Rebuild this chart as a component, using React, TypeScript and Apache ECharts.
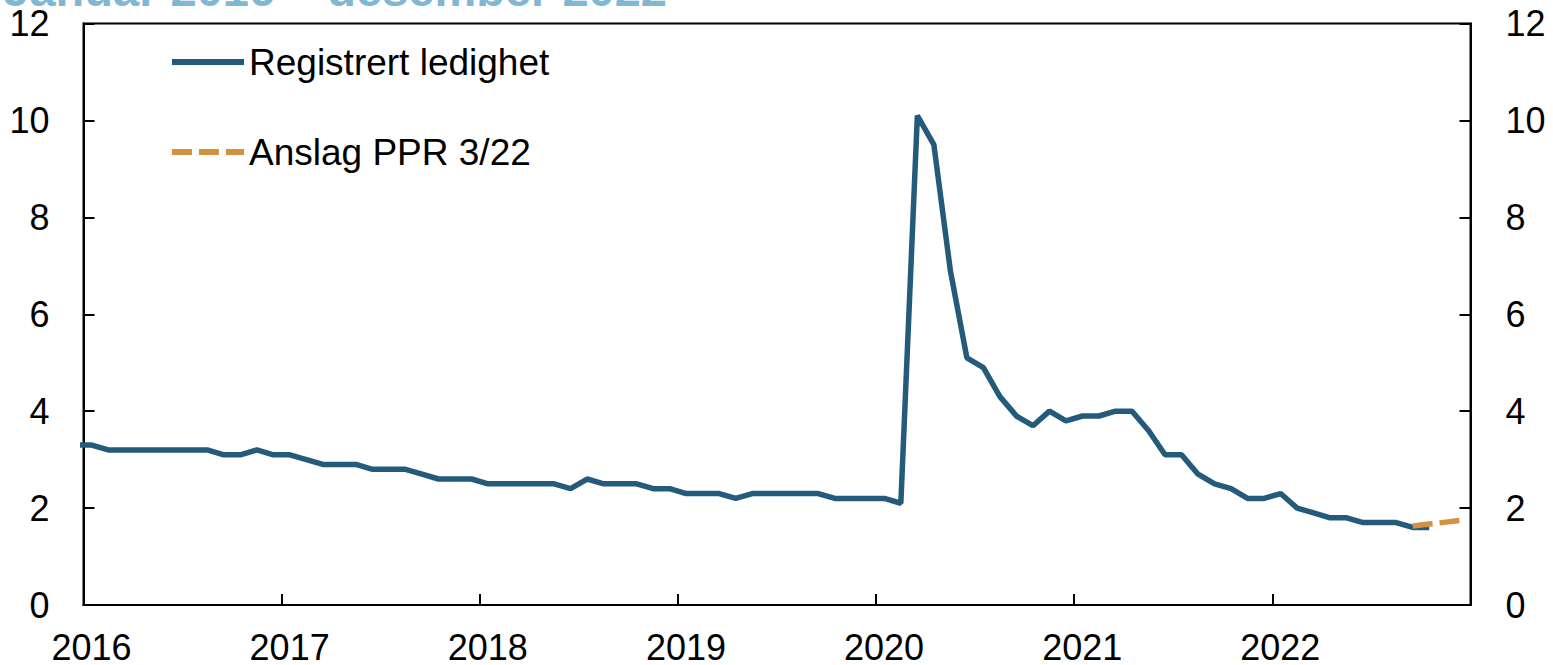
import React, { useEffect, useRef } from "react";
import * as echarts from "echarts";

// Monthly observations (seasonally adjusted registered unemployment, per cent)
const registeredStart = "2015-12";
const registeredValues = [
  3.3, // 2015-12
  3.3, 3.2, 3.2, 3.2, 3.2, 3.2, 3.2, 3.2, 3.1, 3.1, 3.2, 3.1, // 2016
  3.1, 3.0, 2.9, 2.9, 2.9, 2.8, 2.8, 2.8, 2.7, 2.6, 2.6, 2.6, // 2017
  2.5, 2.5, 2.5, 2.5, 2.5, 2.4, 2.6, 2.5, 2.5, 2.5, 2.4, 2.4, // 2018
  2.3, 2.3, 2.3, 2.2, 2.3, 2.3, 2.3, 2.3, 2.3, 2.2, 2.2, 2.2, // 2019
  2.2, 2.1, 10.1, 9.5, 6.9, 5.1, 4.9, 4.3, 3.9, 3.7, 4.0, 3.8, // 2020
  3.9, 3.9, 4.0, 4.0, 3.6, 3.1, 3.1, 2.7, 2.5, 2.4, 2.2, 2.2, // 2021
  2.3, 2.0, 1.9, 1.8, 1.8, 1.7, 1.7, 1.7, 1.6, 1.6, // 2022 (to October)
];

const forecastStart = "2022-09";
const forecastValues = [1.63, 1.67, 1.71, 1.75];

const yearTicks = ["2016", "2017", "2018", "2019", "2020", "2021", "2022"];
const yTickValues = [0, 2, 4, 6, 8, 10, 12];

const seriesNames = ["Registrert ledighet", "Anslag PPR 3/22"];
const titleText = "Januar 2016 – desember 2022";

function monthSeq(start: string, count: number): string[] {
  const [y0, m0] = start.split("-").map(Number);
  const out: string[] = [];
  for (let k = 0; k < count; k++) {
    const t = y0 * 12 + (m0 - 1) + k;
    const y = Math.floor(t / 12);
    const m = (t % 12) + 1;
    out.push(`${y}-${String(m).padStart(2, "0")}`);
  }
  return out;
}

// a month is placed in the middle of its own span on a decimal-year axis
function monthToYear(month: string): number {
  const [y, m] = month.split("-").map(Number);
  return y + (m - 0.5) / 12;
}

const registeredMonths = monthSeq(registeredStart, registeredValues.length);
const forecastMonths = monthSeq(forecastStart, forecastValues.length);

const FONT = '"Liberation Sans", Arial, sans-serif';
const BLUE = "#245b7b";
const ORANGE = "#d4913f";

export default function App() {
  const ref = useRef<HTMLDivElement>(null);

  useEffect(() => {
    document.body.style.margin = "0";
    if (!ref.current) return;
    const chart = echarts.init(ref.current, undefined, { renderer: "svg" });

    const firstYear = Number(yearTicks[0]);
    const lastYear = Number(yearTicks[yearTicks.length - 1]) + 1;

    const yAxisCommon = (position: "left" | "right", margin: number) => ({
      type: "value",
      position,
      min: yTickValues[0],
      max: yTickValues[yTickValues.length - 1],
      interval: yTickValues[1] - yTickValues[0],
      axisLine: { show: true, lineStyle: { color: "#000", width: 2 } },
      axisTick: { show: true, inside: true, length: 11, lineStyle: { color: "#000", width: 2 } },
      splitLine: { show: false },
      axisLabel: { fontSize: 36, color: "#000", fontFamily: FONT, margin },
    });

    chart.setOption({
      animation: false,
      grid: {
        left: 83.5,
        right: 82.5,
        top: 23.5,
        bottom: 59.5,
        show: true,
        borderColor: "#000",
        borderWidth: 2,
        backgroundColor: "transparent",
      },
      legend: {
        orient: "vertical",
        left: 172,
        top: 42,
        padding: 0,
        itemWidth: 72,
        itemHeight: 6,
        itemGap: 50,
        symbolKeepAspect: false,
        itemStyle: { borderWidth: 0 },
        data: [
          { name: seriesNames[0], icon: "rect" },
          {
            name: seriesNames[1],
            icon: "path://M0,0H20V6H0Z M27,0H47V6H27Z M54,0H72V6H54Z",
          },
        ],
        textStyle: { fontSize: 37, color: "#000", fontFamily: FONT, lineHeight: 40 },
      },
      xAxis: {
        type: "value",
        min: firstYear,
        max: lastYear,
        interval: 1,
        axisLine: { show: true, onZero: false, lineStyle: { color: "#000", width: 2 } },
        axisTick: { show: true, inside: true, length: 11, lineStyle: { color: "#000", width: 2 } },
        splitLine: { show: false },
        axisLabel: {
          fontSize: 36,
          lineHeight: 28,
          color: "#000",
          fontFamily: FONT,
          margin: 28,
          padding: [0, 0, 0, 16],
          showMaxLabel: false,
          formatter: (v: number) => (yearTicks.includes(String(v)) ? String(v) : ""),
        },
      },
      yAxis: [yAxisCommon("left", 34), yAxisCommon("right", 35)],
      series: [
        {
          name: seriesNames[0],
          type: "line",
          symbol: "none",
          showSymbol: false,
          clip: true,
          color: BLUE,
          lineStyle: { color: BLUE, width: 5.5 },
          data: registeredMonths.map((m, i) => [monthToYear(m), registeredValues[i]]),
          z: 2,
        },
        {
          name: seriesNames[1],
          type: "line",
          symbol: "none",
          showSymbol: false,
          clip: true,
          color: ORANGE,
          lineStyle: { color: ORANGE, width: 5.5, type: [20, 7] },
          data: forecastMonths.map((m, i) => [monthToYear(m), forecastValues[i]]),
          z: 3,
        },
      ],
      graphic: [
        {
          type: "text",
          x: 667,
          y: -11,
          style: {
            text: titleText,
            fill: "#80b7d2",
            font: `bold 47px ${FONT}`,
            align: "right",
            verticalAlign: "middle",
          },
        },
      ],
    });

    return () => chart.dispose();
  }, []);

  return <div ref={ref} style={{ width: 1553, height: 665 }} />;
}
